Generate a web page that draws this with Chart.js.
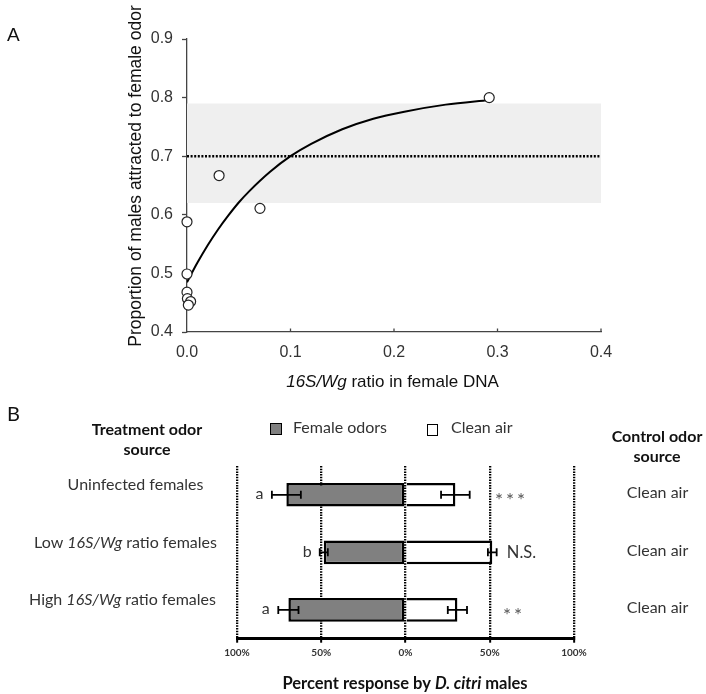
<!DOCTYPE html>
<html><head><meta charset="utf-8">
<script src="https://cdn.jsdelivr.net/npm/chart.js@4.4.0/dist/chart.umd.min.js"></script>
<style>
html,body{margin:0;padding:0;background:#fff;width:706px;height:694px;overflow:hidden}
canvas{position:absolute;left:0;top:0}
</style></head><body>
<canvas id="a" width="706" height="694"></canvas>
<canvas id="b" width="706" height="694"></canvas>
<script>
// ---------- Panel A data ----------
const ratioX = [0, 0, 0, 0.0004, 0.0035, 0.0013, 0.031, 0.0705, 0.292];
const proportionY = [0.588, 0.499, 0.468, 0.457, 0.452, 0.446, 0.667, 0.611, 0.800];
const fitX = [0, 0.01, 0.02, 0.03, 0.04, 0.05, 0.06, 0.08, 0.10, 0.12, 0.15, 0.18, 0.21, 0.25, 0.292];
const fitY = [0.485, 0.518, 0.548, 0.575, 0.599, 0.621, 0.640, 0.673, 0.700, 0.721, 0.746, 0.764, 0.776, 0.788, 0.796];
const bandX = [0, 0.4];
const bandUpper = [0.79, 0.79];
const bandLower = [0.62, 0.62];
const refLine = [0.70, 0.70];

// ---------- Panel B data ----------
const treatments = ['Uninfected females', 'Low 16S/Wg ratio females', 'High 16S/Wg ratio females'];
const femaleOdors = [70.7, 48.5, 69.5];
const femaleErr = [8.6, 2.4, 6.0];
const cleanAir = [29.6, 51.5, 30.8];
const cleanErr = [8.5, 2.6, 5.7];
const groupLetters = ['a', 'b', 'a'];
const significance = ['***', 'N.S.', '**'];
const controlSource = ['Clean air', 'Clean air', 'Clean air'];

const pts = (xs, ys) => xs.map((x, i) => ({x: x, y: ys[i]}));

function fontStr(p, size, fam) {
  return (p.italic ? 'italic ' : '') + (p.bold ? 'bold ' : '') + size + 'px ' + fam;
}
function drawRich(ctx, parts, x, y, size, fam, color, align) {
  let w = 0;
  parts.forEach(p => { ctx.font = fontStr(p, size, fam); w += ctx.measureText(p.t).width; });
  let cx = align === 'left' ? x : (align === 'right' ? x - w : x - w / 2);
  ctx.fillStyle = color;
  ctx.textAlign = 'left';
  ctx.textBaseline = 'middle';
  parts.forEach(p => { ctx.font = fontStr(p, size, fam); ctx.fillText(p.t, cx, y); cx += ctx.measureText(p.t).width; });
}
function splitItalic(s, token, bold) {
  const i = s.indexOf(token);
  if (i < 0) return [{t: s, bold: bold}];
  const out = [];
  if (i > 0) out.push({t: s.slice(0, i), bold: bold});
  out.push({t: token, italic: true, bold: bold});
  if (i + token.length < s.length) out.push({t: s.slice(i + token.length), bold: bold});
  return out;
}

const FA = 'Liberation Sans, Arial, sans-serif';
const FB = 'Lato, Carlito, sans-serif';

const textA = {
  id: 'textA',
  afterDraw(chart) {
    const ctx = chart.ctx;
    ctx.save();
    drawRich(ctx, [{t: 'A'}], 7, 36, 19, FA, '#111', 'left');
    // inward x ticks
    const xs = chart.scales.x, bottom = chart.chartArea.bottom;
    ctx.strokeStyle = '#444'; ctx.lineWidth = 1.3;
    [0.1, 0.2, 0.3, 0.4].forEach(v => {
      const px = xs.getPixelForValue(v);
      ctx.beginPath(); ctx.moveTo(px, bottom); ctx.lineTo(px, bottom - 3.5); ctx.stroke();
    });
    // x title
    drawRich(ctx, [{t: '16S/Wg', italic: true}, {t: ' ratio in female DNA'}], 392.5, 382, 17, FA, '#111', 'center');
    // y title
    ctx.translate(136.5, 176);
    ctx.rotate(-Math.PI / 2);
    drawRich(ctx, [{t: 'Proportion of males attracted to female odor'}], 0, 0, 17.5, FA, '#111', 'center');
    ctx.restore();
  }
};

new Chart(document.getElementById('a'), {
  type: 'line',
  data: {
    datasets: [
      {label: 'Observed', data: pts(ratioX, proportionY), showLine: false, pointRadius: 5,
       pointBackgroundColor: '#fff', pointBorderColor: '#222', pointBorderWidth: 1.2, clip: false},
      {label: 'Fit', data: pts(fitX, fitY), borderColor: '#000', borderWidth: 2, pointRadius: 0,
       cubicInterpolationMode: 'monotone', fill: false},
      {label: 'Mean', data: pts(bandX, refLine), borderColor: '#000', borderWidth: 2.6,
       borderDash: [2, 1.6], pointRadius: 0, fill: false},
      {label: 'Range', data: pts(bandX, bandUpper), borderWidth: 0, borderColor: 'rgba(0,0,0,0)',
       backgroundColor: '#efefef', fill: '+1', pointRadius: 0},
      {label: 'RangeLow', data: pts(bandX, bandLower), borderWidth: 0, borderColor: 'rgba(0,0,0,0)',
       pointRadius: 0, fill: false}
    ]
  },
  options: {
    responsive: false, animation: false, events: [],
    layout: {padding: {left: 0, top: 39, right: 105, bottom: 294}},
    plugins: {legend: {display: false}, tooltip: {enabled: false}, filler: {drawTime: 'beforeDatasetsDraw'}},
    scales: {
      x: {type: 'linear', min: 0, max: 0.4,
          afterFit: s => { s.height = 68; },
          ticks: {stepSize: 0.1, callback: v => v.toFixed(1), font: {family: FA, size: 16}, color: '#333', padding: 11, maxRotation: 0},
          grid: {display: true, drawOnChartArea: false, drawTicks: false},
          border: {display: true, color: '#444', width: 1.3}},
      y: {type: 'linear', min: 0.4, max: 0.9,
          afterFit: s => { s.width = 187; },
          ticks: {stepSize: 0.1, callback: v => v.toFixed(1), font: {family: FA, size: 16}, color: '#333', padding: 9},
          grid: {drawOnChartArea: false, drawTicks: true, tickLength: 5, color: '#444', tickColor: '#444', tickWidth: 1.3},
          border: {display: true, color: '#444', width: 1.3}}
    }
  },
  plugins: [textA]
});

const pluginB = {
  id: 'pluginB',
  afterDatasetsDraw(chart) {
    const ctx = chart.ctx, xs = chart.scales.x, ys = chart.scales.y;
    ctx.save();
    ctx.strokeStyle = '#000'; ctx.lineWidth = 1.8;
    const bar = (x1, x2, y) => {
      ctx.beginPath(); ctx.moveTo(x1, y); ctx.lineTo(x2, y);
      ctx.moveTo(x1, y - 4); ctx.lineTo(x1, y + 4);
      ctx.moveTo(x2, y - 4); ctx.lineTo(x2, y + 4); ctx.stroke();
    };
    treatments.forEach((t, i) => {
      const y = ys.getPixelForValue(i);
      bar(xs.getPixelForValue(-(femaleOdors[i] + femaleErr[i])), xs.getPixelForValue(-(femaleOdors[i] - femaleErr[i])), y);
      bar(xs.getPixelForValue(cleanAir[i] - cleanErr[i]), xs.getPixelForValue(cleanAir[i] + cleanErr[i]), y);
    });
    ctx.restore();
  },
  afterDraw(chart) {
    const ctx = chart.ctx, xs = chart.scales.x, ys = chart.scales.y;
    ctx.save();
    drawRich(ctx, [{t: 'B'}], 7, 415, 20, FB, '#111', 'left');
    drawRich(ctx, [{t: 'Treatment odor', bold: true}], 147, 430, 16, FB, '#111', 'center');
    drawRich(ctx, [{t: 'source', bold: true}], 147, 450, 16, FB, '#111', 'center');
    drawRich(ctx, [{t: 'Control odor', bold: true}], 657, 437, 16, FB, '#111', 'center');
    drawRich(ctx, [{t: 'source', bold: true}], 657, 457, 16, FB, '#111', 'center');
    // legend
    ctx.fillStyle = '#808080'; ctx.strokeStyle = '#000'; ctx.lineWidth = 1;
    ctx.fillRect(270.5, 423.5, 11, 11); ctx.strokeRect(270.5, 423.5, 11, 11);
    drawRich(ctx, [{t: 'Female odors'}], 293, 428, 16, FB, '#333', 'left');
    ctx.fillStyle = '#fff';
    ctx.fillRect(427.5, 424.5, 10, 11); ctx.strokeRect(427.5, 424.5, 10, 11);
    drawRich(ctx, [{t: 'Clean air'}], 451, 428, 16, FB, '#333', 'left');
    const rowCx = [135.5, 125.5, 122.5];
    const sigCx = [510, 521.5, 512.5];
    treatments.forEach((t, i) => {
      const y = ys.getPixelForValue(i);
      drawRich(ctx, splitItalic(t, '16S/Wg', false), rowCx[i], y - 10, 16, FB, '#333', 'center');
      const el = xs.getPixelForValue(-(femaleOdors[i] + femaleErr[i]));
      drawRich(ctx, [{t: groupLetters[i]}], el - 12.5, y - 1, 16, FB, '#333', 'center');
      if (significance[i].indexOf('*') >= 0) {
        ctx.letterSpacing = '3px';
        drawRich(ctx, [{t: significance[i]}], sigCx[i] + 1.5, y + 6, 19, FB, '#555', 'center');
        ctx.letterSpacing = '0px';
      } else {
        drawRich(ctx, [{t: significance[i]}], sigCx[i], y + 0.5, 16.5, FB, '#333', 'center');
      }
      drawRich(ctx, [{t: controlSource[i]}], 657.5, y - 2, 16, FB, '#333', 'center');
    });
    drawRich(ctx, splitItalic('Percent response by D. citri males', 'D. citri', true), 405, 684, 16.5, FB, '#111', 'center');
    ctx.restore();
  }
};

new Chart(document.getElementById('b'), {
  type: 'bar',
  data: {
    labels: treatments,
    datasets: [
      {label: 'Female odors', data: femaleOdors.map(v => -v), backgroundColor: '#808080', borderColor: '#000',
       borderWidth: 2.5, borderSkipped: false, barPercentage: 0.41, categoryPercentage: 1},
      {label: 'Clean air', data: cleanAir, backgroundColor: '#fff', borderColor: '#000',
       borderWidth: 2.5, borderSkipped: 'start', barPercentage: 0.41, categoryPercentage: 1}
    ]
  },
  options: {
    indexAxis: 'y', responsive: false, animation: false, events: [],
    layout: {padding: {left: 237, right: 132, top: 466, bottom: 0}},
    plugins: {legend: {display: false}, tooltip: {enabled: false}},
    scales: {
      x: {min: -100, max: 100, stacked: true,
          afterFit: s => { s.height = 55.3; },
          ticks: {stepSize: 50, callback: v => Math.abs(v) + '%', font: {family: FB, size: 10, weight: 'bold'}, color: '#333', padding: 4, maxRotation: 0},
          grid: {color: '#000', lineWidth: 2.3, drawOnChartArea: true, drawTicks: true, tickLength: 4, tickColor: '#000', tickWidth: 2, tickBorderDash: []},
          border: {display: true, color: '#000', width: 3, dash: [1.5, 1.2]}},
      y: {display: false, stacked: true}
    }
  },
  plugins: [pluginB]
});
</script>
</body></html>
